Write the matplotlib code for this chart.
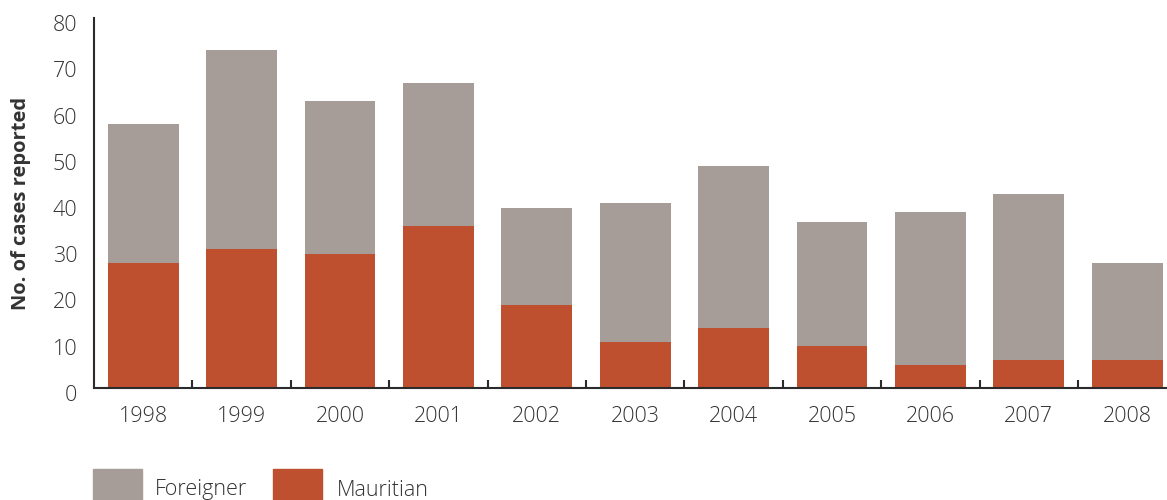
import numpy as np
import matplotlib
matplotlib.use("Agg")
import matplotlib.pyplot as plt
from matplotlib.patches import Rectangle
from matplotlib.transforms import ScaledTranslation

plt.rcParams['font.family'] = ['Open Sans', 'DejaVu Sans']
plt.rcParams['font.weight'] = 'light'

# data
years = ['1998', '1999', '2000', '2001', '2002', '2003', '2004', '2005', '2006', '2007', '2008']
mauritian = [27, 30, 29, 35, 18, 10, 13, 9, 5, 6, 6]
foreigner = [30, 43, 33, 31, 21, 30, 35, 27, 33, 36, 21]

c_foreign = '#A69D98'
c_maur = '#BF502F'
axis_col = '#2b2b2b'
text_col = '#333333'
fs = 15.5

fig = plt.figure(figsize=(11.67, 5.0), dpi=100)
ax = fig.add_axes([94 / 1167, 112 / 500, 1082.4 / 1167, 370 / 500])

x = np.arange(len(years))
ax.bar(x, mauritian, width=0.72, color=c_maur, zorder=2)
ax.bar(x, foreigner, width=0.72, bottom=mauritian, color=c_foreign, zorder=2)

ax.set_xlim(-0.5, len(years) - 0.5)
ax.set_ylim(0, 80)

for s in ['top', 'right']:
    ax.spines[s].set_visible(False)
for s in ['left', 'bottom']:
    ax.spines[s].set_color(axis_col)
    ax.spines[s].set_linewidth(1.5)
    ax.spines[s].set_zorder(3)

# y axis
ax.set_yticks(range(0, 81, 10))
ax.tick_params(axis='y', length=0, pad=12, labelsize=fs, labelcolor=text_col)
for lab in ax.get_yticklabels():
    lab.set_transform(lab.get_transform() + ScaledTranslation(0, -0.05, fig.dpi_scale_trans))

# x axis: labels at centres, tick marks at boundaries
ax.set_xticks(x)
ax.set_xticklabels(years)
ax.tick_params(axis='x', which='major', length=0, pad=13, labelsize=fs, labelcolor=text_col)
ax.set_xticks(x[:-1] + 0.5, minor=True)
ax.tick_params(axis='x', which='minor', direction='in', length=6, width=1.5, color=axis_col)

ax.set_ylabel('No. of cases reported', fontsize=14.5, fontweight='bold', color=text_col, va='center')
ax.yaxis.set_label_coords(-0.0675, 0.5)

# legend drawn as figure patches
W, H = 1167, 500
fig.patches.append(Rectangle((93 / W, 0), 49 / W, 31 / H, transform=fig.transFigure,
                             color=c_foreign, figure=fig))
fig.text(155 / W, 10 / H, 'Foreigner', fontsize=fs, color=text_col, va='center', ha='left')
fig.patches.append(Rectangle((273 / W, 0), 49 / W, 31 / H, transform=fig.transFigure,
                             color=c_maur, figure=fig))
fig.text(337 / W, 10 / H, 'Mauritian', fontsize=fs, color=text_col, va='center', ha='left')

fig.savefig('out.png', dpi=100)
